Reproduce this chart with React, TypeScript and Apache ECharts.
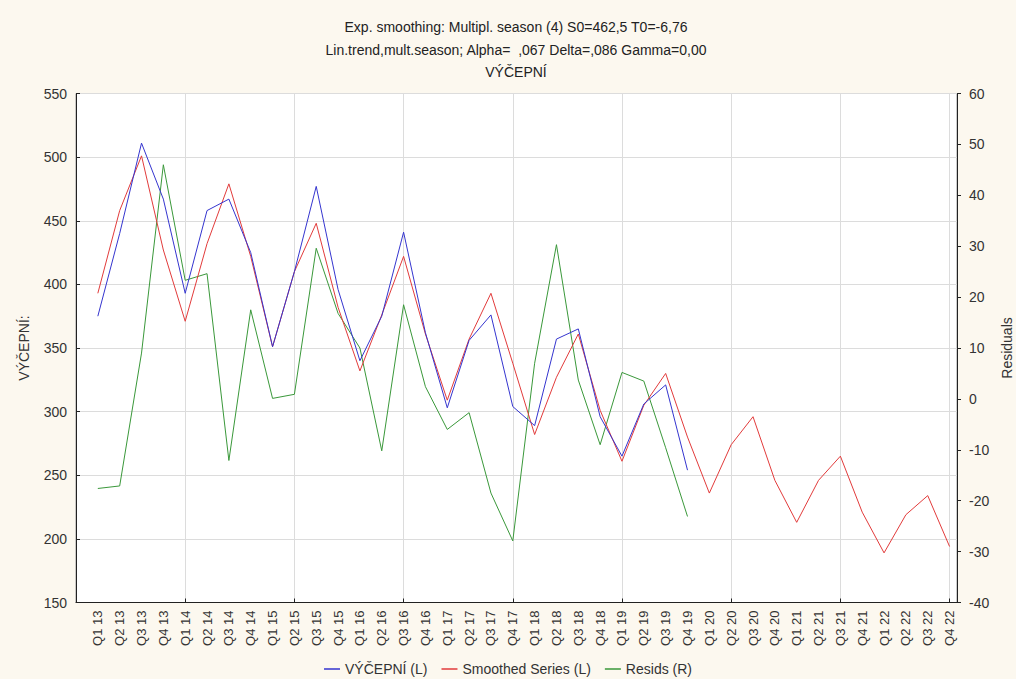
import React, { useEffect, useRef } from "react";
import * as echarts from "echarts";

const categories = [
  "Q1 13","Q2 13","Q3 13","Q4 13","Q1 14","Q2 14","Q3 14","Q4 14",
  "Q1 15","Q2 15","Q3 15","Q4 15","Q1 16","Q2 16","Q3 16","Q4 16",
  "Q1 17","Q2 17","Q3 17","Q4 17","Q1 18","Q2 18","Q3 18","Q4 18",
  "Q1 19","Q2 19","Q3 19","Q4 19","Q1 20","Q2 20","Q3 20","Q4 20",
  "Q1 21","Q2 21","Q3 21","Q4 21","Q1 22","Q2 22","Q3 22","Q4 22",
];

const vycepni = [
  375, 440, 511, 467, 393, 458, 467, 425, 351, 410, 477, 396, 340, 375,
  441, 362, 303, 356, 376, 304, 289, 357, 365, 296, 265, 306, 321, 254,
];

const smoothed = [
  393, 458, 501, 427, 371, 432, 479, 422, 351, 410, 448, 382, 332, 376,
  422, 361, 309, 357, 393, 338, 282, 327, 361, 301, 261, 305, 330, 280,
  236, 274, 296, 246, 213, 246, 265, 221, 189, 219, 234, 194,
];

const resids = [
  -17.6, -17.1, 9, 46, 23.3, 24.6, -12.1, 17.5, 0.1, 0.9, 29.6, 16.8, 10,
  -10.2, 18.5, 2.4, -6, -2.7, -18.5, -27.9, 7, 30.3, 3.7, -9, 5.2, 3.5,
  -9.6, -23.1,
];

const titleLines = [
  "Exp. smoothing: Multipl. season (4) S0=462,5 T0=-6,76",
  "Lin.trend,mult.season; Alpha=  ,067 Delta=,086 Gamma=0,00",
  "VÝČEPNÍ",
];

const toPairs = (arr: number[]) => arr.map((v, i) => [i + 1, v]);

export default function App() {
  const ref = useRef<HTMLDivElement>(null);
  useEffect(() => {
    if (!ref.current) return;
    const chart = echarts.init(ref.current, null, { renderer: "svg" });
    const font = "'Liberation Sans', Arial, sans-serif";
    const txt = "#333";
    chart.setOption({
      animation: false,
      backgroundColor: "#fcf8ef",
      textStyle: { fontFamily: font },
      graphic: [
        ...titleLines.map((t, i) => ({
          type: "text",
          x: 516,
          y: 27 + i * 22.5,
          style: {
            text: t,
            fill: "#222",
            font: `14px ${font}`,
            textAlign: "center",
            textVerticalAlign: "middle",
          },
        })),
      ],
      grid: {
        left: 76,
        right: 59,
        top: 93.5,
        bottom: 76.5,
        outerBoundsMode: "none",
        containLabel: false,
        show: true,
        backgroundColor: "#ffffff",
        borderColor: "#999",
        borderWidth: 1,
      },
      legend: {
        bottom: -2,
        left: "center",
        icon: "rect",
        itemWidth: 16,
        itemHeight: 1.5,
        itemGap: 14,
        textStyle: { fontSize: 14, color: txt, fontFamily: font },
        data: ["VÝČEPNÍ (L)", "Smoothed Series (L)", "Resids (R)"],
      },
      xAxis: [
        {
          type: "value",
          min: 0,
          max: 40.34,
          interval: 1,
          position: "bottom",
          axisLine: { show: true, onZero: false, lineStyle: { color: "#222" } },
          axisTick: { show: false },
          splitLine: { show: false },
          axisLabel: {
            rotate: 90,
            fontSize: 13,
            color: txt,
            margin: 8,
            showMaxLabel: false,
            formatter: (v: number) =>
              Number.isInteger(v) && v >= 1 && v <= categories.length
                ? categories[v - 1]
                : "",
          },
        },
        {
          type: "value",
          min: 0,
          max: 40.34,
          interval: 5,
          position: "bottom",
          axisLine: { show: false, onZero: false },
          axisTick: { show: true, inside: true, length: 4, lineStyle: { color: "#222" } },
          splitLine: { show: true, lineStyle: { color: "#dcdcdc", width: 1 } },
          axisLabel: { show: false },
        },
      ],
      yAxis: [
        {
          type: "value",
          min: 150,
          max: 550,
          interval: 50,
          position: "left",
          name: "VÝČEPNÍ:",
          nameLocation: "middle",
          nameGap: 45,
          nameTextStyle: { fontSize: 14, color: txt, fontFamily: font },
          axisLine: { show: true, onZero: false, lineStyle: { color: "#222" } },
          axisTick: { show: true, inside: true, length: 4, lineStyle: { color: "#222" } },
          splitLine: { show: true, lineStyle: { color: "#dcdcdc", width: 1 } },
          axisLabel: { fontSize: 14, color: txt, margin: 9 },
        },
        {
          type: "value",
          min: -40,
          max: 60,
          interval: 10,
          position: "right",
          name: "Residuals",
          nameLocation: "middle",
          nameGap: 40,
          nameRotate: 90,
          nameTextStyle: { fontSize: 14, color: txt, fontFamily: font },
          axisLine: { show: true, onZero: false, lineStyle: { color: "#222" } },
          axisTick: { show: true, inside: false, length: 4, lineStyle: { color: "#222" } },
          splitLine: { show: false },
          axisLabel: { fontSize: 14, color: txt, margin: 12 },
        },
      ],
      series: [
        {
          name: "VÝČEPNÍ (L)",
          type: "line",
          xAxisIndex: 0,
          yAxisIndex: 0,
          data: toPairs(vycepni),
          showSymbol: false,
          symbol: "none",
          lineStyle: { color: "#3535cf", width: 1 },
          itemStyle: { color: "#3535cf" },
          z: 4,
        },
        {
          name: "Smoothed Series (L)",
          type: "line",
          xAxisIndex: 0,
          yAxisIndex: 0,
          data: toPairs(smoothed),
          showSymbol: false,
          symbol: "none",
          lineStyle: { color: "#e23b3b", width: 1 },
          itemStyle: { color: "#e23b3b" },
          z: 3,
        },
        {
          name: "Resids (R)",
          type: "line",
          xAxisIndex: 0,
          yAxisIndex: 1,
          data: toPairs(resids),
          showSymbol: false,
          symbol: "none",
          lineStyle: { color: "#3a983a", width: 1 },
          itemStyle: { color: "#3a983a" },
          z: 2,
        },
      ],
    });
    return () => chart.dispose();
  }, []);
  return (
    <div
      ref={ref}
      style={{ position: "fixed", left: 0, top: 0, width: 1016, height: 679 }}
    />
  );
}
